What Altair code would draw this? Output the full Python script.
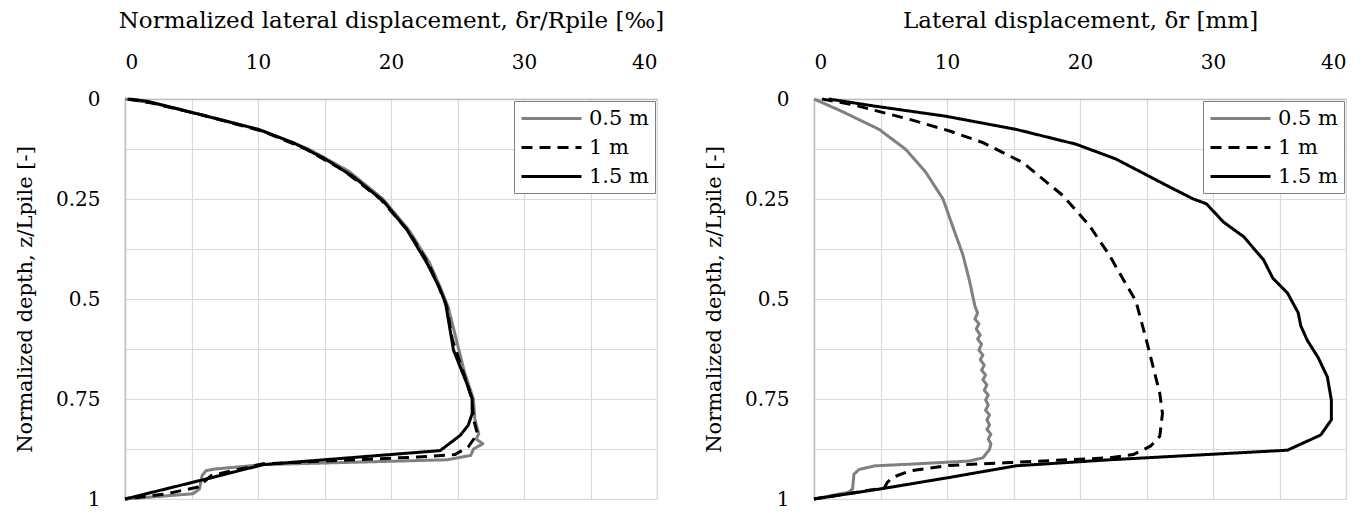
import altair as alt
import pandas as pd

series = ["0.5 m", "1 m", "1.5 m"]
series_colors = ["#808080", "#000000", "#000000"]
series_dash = [[1, 0], [11, 7], [1, 0]]

x_ticks = [0, 5, 10, 15, 20, 25, 30, 35, 40]
y_ticks = [0, 0.125, 0.25, 0.375, 0.5, 0.625, 0.75, 0.875, 1]

left_title = "Normalized lateral displacement, \u03b4r/Rpile [\u2030]"
right_title = "Lateral displacement, \u03b4r [mm]"
y_title = "Normalized depth, z/Lpile [-]"

# ---- Left panel: normalized displacement [per mille] ----
L05_y = [0, 0.01, 0.04, 0.08, 0.125, 0.18, 0.25, 0.33, 0.41, 0.47, 0.52, 0.6, 0.68, 0.75, 0.8,
         0.837, 0.85, 0.862, 0.875, 0.891, 0.902, 0.914, 0.925, 0.929, 0.941, 0.975, 0.987, 1.0]
L05_x = [0, 2.2, 5.8, 10.4, 13.8, 16.8, 19.4, 21.4, 22.9, 23.7, 24.3, 24.9, 25.5, 26.2, 26.3,
         26.6, 26.4, 26.9, 26.2, 26.0, 24.2, 10.4, 6.8, 6.1, 5.8, 5.6, 5.1, 0]

L10_y = [0, 0.01, 0.04, 0.08, 0.125, 0.18, 0.25, 0.33, 0.41, 0.47, 0.52, 0.6, 0.68, 0.75, 0.8,
         0.837, 0.87, 0.889, 0.895, 0.912, 0.941, 0.97, 0.987, 1.0]
L10_x = [0.2, 2.0, 5.8, 10.3, 13.6, 16.5, 19.2, 21.3, 22.8, 23.6, 24.2, 24.6, 25.4, 26.1, 26.2,
         26.5, 25.8, 24.8, 22.0, 10.4, 6.5, 5.5, 3.1, 0]

L15_y = [0, 0.006, 0.033, 0.075, 0.11, 0.148, 0.195, 0.256, 0.327, 0.41, 0.469, 0.51, 0.628,
         0.711, 0.75, 0.787, 0.816, 0.841, 0.879, 0.914, 0.95, 1.0]
L15_x = [0.4, 1.7, 4.95, 9.95, 12.7, 14.95, 17.2, 19.45, 21.2, 22.7, 23.6, 24.1, 24.7,
         25.7, 26.1, 26.1, 25.8, 25.2, 23.7, 10.4, 6.1, 0]

# ---- Right panel: lateral displacement [mm] ----
R05_y = [0, 0.031, 0.076, 0.126, 0.183, 0.25, 0.316, 0.39, 0.456,
         0.518, 0.535, 0.55, 0.562, 0.575, 0.59, 0.6, 0.613, 0.628, 0.64, 0.652, 0.665, 0.678,
         0.69, 0.702, 0.715, 0.728, 0.74, 0.752, 0.765, 0.778, 0.79, 0.802, 0.815, 0.826,
         0.838, 0.85, 0.862, 0.876,
         0.897, 0.905, 0.913, 0.917, 0.926, 0.938, 0.975, 0.983, 1.0]
R05_x = [0, 2.1, 4.9, 6.9, 8.4, 9.7, 10.4, 11.2, 11.7,
         12.1, 12.3, 12.1, 12.4, 12.2, 12.5, 12.3, 12.6, 12.4, 12.7, 12.5, 12.8, 12.6,
         12.9, 12.7, 13.0, 12.8, 13.1, 12.9, 13.1, 12.9, 13.2, 13.0, 13.2, 13.0,
         13.3, 13.1, 13.3, 13.2,
         12.7, 11.7, 7.2, 4.6, 3.4, 3.0, 2.9, 2.6, 0]

R10_y = [0, 0.014, 0.051, 0.08, 0.109, 0.159, 0.241, 0.316, 0.39, 0.448, 0.505, 0.604, 0.67,
         0.736, 0.786, 0.843, 0.868, 0.889, 0.897, 0.909, 0.916, 0.93, 0.946, 0.959, 0.972, 1.0]
R10_x = [0.6, 2.9, 7.2, 10.2, 12.7, 15.7, 18.7, 20.7, 22.2, 23.2, 24.2, 25.0, 25.5,
         26.0, 26.2, 26.0, 25.3, 24.0, 22.2, 14.7, 10.2, 7.2, 5.9, 5.5, 5.3, 0]

R15_y = [0, 0.018, 0.043, 0.076, 0.113, 0.15, 0.221, 0.2496, 0.262, 0.308, 0.344, 0.402, 0.448,
         0.485, 0.534, 0.567, 0.604, 0.646, 0.695, 0.753, 0.802, 0.84, 0.878, 0.902, 0.917,
         0.946, 0.974, 1.0]
R15_x = [1.1, 4.6, 9.9, 15.2, 19.7, 22.7, 26.8, 28.5, 29.5, 30.8, 32.3, 33.8, 34.5,
         35.6, 36.4, 36.6, 37.1, 37.9, 38.6, 38.9, 38.9, 38.1, 35.6, 22.2, 15.2,
         10.2, 5.15, 0]


def frame(xs_list, ys_list):
    rows = []
    for name, xs, ys in zip(series, xs_list, ys_list):
        for i, (x, y) in enumerate(zip(xs, ys)):
            rows.append({"s": name, "x": x, "y": y, "i": i})
    return pd.DataFrame(rows)


FONT = "DejaVu Serif"


def panel(df, title):
    legend = alt.Legend(orient="top-right", offset=2)
    return alt.Chart(df).mark_line(strokeWidth=3, strokeJoin="round").encode(
        x=alt.X("x:Q",
                scale=alt.Scale(domain=[0, 40], nice=False, zero=False),
                axis=alt.Axis(orient="top", values=x_ticks, title=title,
                              labelExpr="datum.value % 10 == 0 ? toString(datum.value) : ''",
                              labelPadding=27, titlePadding=20, titleFontSize=23)),
        y=alt.Y("y:Q",
                scale=alt.Scale(domain=[0, 1], reverse=True, nice=False, zero=False),
                axis=alt.Axis(values=y_ticks, title=y_title,
                              labelExpr="(datum.value * 4) % 1 == 0 ? toString(datum.value) : ''",
                              labelPadding=25, titlePadding=20, titleFontSize=21)),
        color=alt.Color("s:N", title=None,
                        scale=alt.Scale(domain=series, range=series_colors),
                        legend=legend),
        strokeDash=alt.StrokeDash("s:N", title=None,
                                  scale=alt.Scale(domain=series, range=series_dash),
                                  legend=legend),
        order=alt.Order("i:Q"),
    ).properties(width=532, height=400)


left = panel(frame([L05_x, L10_x, L15_x], [L05_y, L10_y, L15_y]), left_title)
right = panel(frame([R05_x, R10_x, R15_x], [R05_y, R10_y, R15_y]), right_title)

chart = alt.hconcat(left, right, spacing=37).resolve_scale(
    color="independent", strokeDash="independent"
).resolve_legend(
    color="independent", strokeDash="independent"
).properties(
    padding={"left": 5, "top": 0, "right": 5, "bottom": 5},
).configure(
    background="#ffffff",
).configure_axis(
    labelFont=FONT, titleFont=FONT, labelFontSize=20,
    titleFontWeight="normal", labelColor="#000000", titleColor="#000000",
    ticks=False, domainColor="#bfbfbf", domainWidth=1.5,
    gridColor="#d9d9d9", gridWidth=1.2,
).configure_legend(
    labelFont=FONT, labelFontSize=21, labelColor="#000000",
    symbolType="M-3,0H3", symbolSize=400, symbolStrokeWidth=3,
    symbolOffset=20, labelOffset=26,
    strokeColor="#808080", fillColor="#ffffff", padding=6,
    rowPadding=7, cornerRadius=0,
).configure_view(
    stroke="#d9d9d9", strokeWidth=1.2,
)

chart.save("out.html", embed_options={"renderer": "svg", "actions": False})
